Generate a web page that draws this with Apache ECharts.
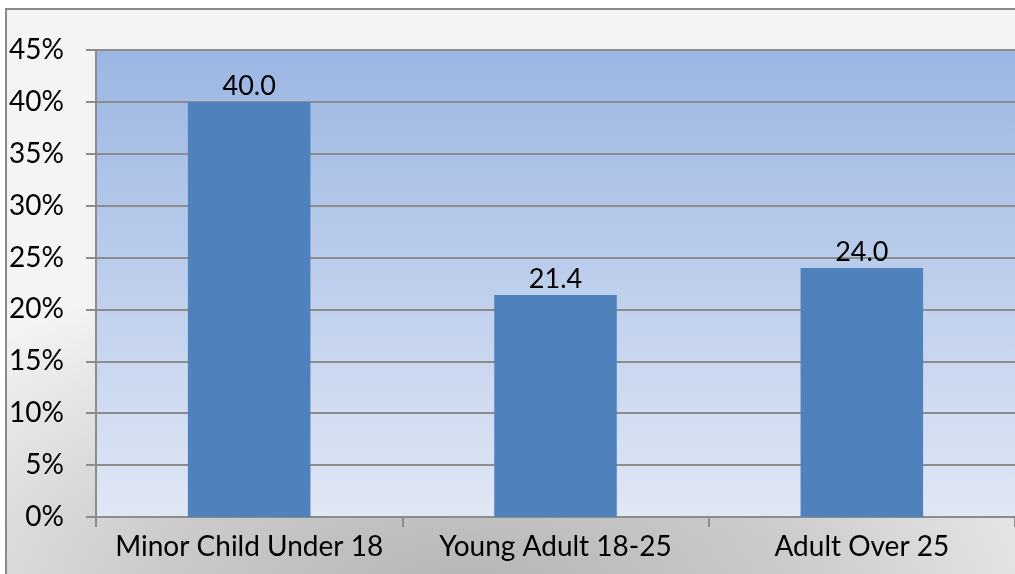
<!DOCTYPE html>
<html><head><meta charset="utf-8">
<script src="https://cdn.jsdelivr.net/npm/echarts@6/dist/echarts.min.js"></script>
<style>
html,body{margin:0;padding:0;width:1015px;height:574px;overflow:hidden;background:#fff;}
#frame{position:absolute;left:5px;top:8px;width:1030px;height:590px;border-left:2px solid #8a8a8a;border-top:2px solid #8a8a8a;
background:radial-gradient(ellipse 70% 60% at 45% 100%, #b4b4b4 0%, #cbcbcb 45%, #e2e2e2 75%, #f4f4f4 100%);}
#c{position:absolute;left:0;top:0;width:1015px;height:574px;}
</style></head>
<body><div id="frame"></div><div id="c"></div>
<script>
var categories = ['Minor Child Under 18', 'Young Adult 18-25', 'Adult Over 25'];
var values = [40.0, 21.4, 24.0];
var chart = echarts.init(document.getElementById('c'), null, {renderer:'canvas'});
var font = 'Lato, "Open Sans", sans-serif';
chart.setOption({
  backgroundColor: 'transparent',
  animation: false,
  grid: {left: 96, top: 50, bottom: 57, right: -2, show: true, borderWidth: 0,
    backgroundColor: new echarts.graphic.LinearGradient(0,0,0,1,[{offset:0,color:'#9bb6e3'},{offset:1,color:'#e0e7f5'}])},
  xAxis: {type:'category', data: categories,
    axisLine:{lineStyle:{color:'#8c8c8c', width:2}},
    axisTick:{show:true, length:10, lineStyle:{color:'#8c8c8c', width:2}},
    axisLabel:{color:'#000', fontSize:28, fontFamily:font, margin:16, interval:0, hideOverlap:false}},
  yAxis: {type:'value', min:0, max:45, interval:5,
    axisLine:{show:true, lineStyle:{color:'#8c8c8c', width:2}},
    axisTick:{show:true, length:10, lineStyle:{color:'#8c8c8c', width:2}},
    splitLine:{lineStyle:{color:'#8c8c8c', width:2}},
    axisLabel:{formatter:'{value}%', color:'#000', fontSize:28, fontFamily:font, margin:32}},
  series: [{type:'bar', data: values, barWidth:'40%',
    itemStyle:{color:'#4f81bd'},
    label:{show:true, position:'top', distance:2, color:'#000', fontSize:27, fontFamily:font,
      formatter:function(p){return p.value.toFixed(1);}}}]
});
</script></body></html>
